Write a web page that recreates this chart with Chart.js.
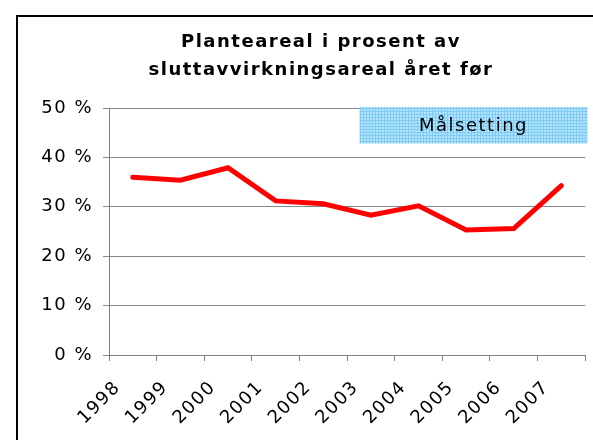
<!DOCTYPE html>
<html>
<head>
<meta charset="utf-8">
<script src="https://cdn.jsdelivr.net/npm/chart.js@4/dist/chart.umd.min.js"></script>
<style>
    html, body { margin: 0; padding: 0; background: #fff; }
    #wrap { position: relative; width: 593px; height: 440px; overflow: hidden; }
    #frame { position: absolute; left: 16px; top: 15px; width: 700px; height: 500px;
             border-left: 2px solid #000; border-top: 2px solid #000; pointer-events: none; }
    canvas { position: absolute; left: 0; top: 0; }
</style>
</head>
<body>
<div id="wrap">
    <canvas id="plantChart" width="593" height="440"></canvas>
    <div id="frame"></div>
</div>
<script>
// data
var years = ["1998", "1999", "2000", "2001", "2002", "2003", "2004", "2005", "2006", "2007"];
var plantShare = [36.0, 35.4, 37.9, 31.2, 30.6, 28.3, 30.2, 25.3, 25.6, 34.3];
var yTicks = [0, 10, 20, 30, 40, 50];
var targetBand = [42.8, 50];
var targetText = "Målsetting";
var titleLines = ["Planteareal i prosent av", "sluttavvirkningsareal året før"];

window.addEventListener('load', function () {

    function makePattern() {
        var c = document.createElement('canvas');
        c.width = 3;
        c.height = 3;
        var g = c.getContext('2d');
        g.fillStyle = '#b5e4fd';
        g.fillRect(0, 0, 3, 3);
        g.fillStyle = '#80cbf5';
        g.fillRect(0, 0, 3, 1);
        g.fillRect(0, 0, 1, 3);
        return g.createPattern(c, 'repeat');
    }

    // wider letters, like the old excel picture
    var spacing = {
        id: 'spacing',
        beforeLayout: function (chart) { chart.ctx.letterSpacing = '1.5px'; },
        beforeDraw: function (chart) { chart.ctx.letterSpacing = '1.5px'; }
    };

    // title is centred on the whole frame (wider than the window), so draw it here
    var frameTitle = {
        id: 'frameTitle',
        afterDraw: function (chart) {
            var ctx = chart.ctx;
            ctx.save();
            ctx.fillStyle = '#000';
            ctx.font = 'bold 18px "DejaVu Sans"';
            ctx.textAlign = 'center';
            ctx.textBaseline = 'middle';
            for (var i = 0; i < titleLines.length; i++) {
                ctx.fillText(titleLines[i], 321, 42 + i * 28);
            }
            ctx.restore();
        }
    };

    var targetBox = {
        id: 'targetBox',
        beforeDatasetsDraw: function (chart) {
            var ctx = chart.ctx;
            var x = chart.scales.x, y = chart.scales.y;
            var left = x.getPixelForValue(4.76);
            var right = x.getPixelForValue(9.55);
            var top = y.getPixelForValue(targetBand[1]) - 1;
            var bottom = y.getPixelForValue(targetBand[0]);
            ctx.save();
            ctx.fillStyle = makePattern();
            ctx.fillRect(left, top, right - left, bottom - top);
            ctx.fillStyle = '#000';
            ctx.font = '18px "DejaVu Sans"';
            ctx.textAlign = 'center';
            ctx.textBaseline = 'middle';
            ctx.fillText(targetText, (left + right) / 2, (top + bottom) / 2 + 1);
            ctx.restore();
        }
    };

    new Chart("plantChart", {
        type: "line",
        data: {
            labels: years,
            datasets: [{
                data: plantShare,
                borderColor: "#ff0000",
                borderWidth: 5,
                pointRadius: 0,
                tension: 0,
                borderCapStyle: 'round',
                borderJoinStyle: 'miter'
            }]
        },
        options: {
            responsive: false,
            animation: false,
            layout: { padding: { left: 0, right: 7, top: 108, bottom: 0 } },
            plugins: {
                legend: { display: false },
                tooltip: { enabled: false },
                title: { display: false }
            },
            scales: {
                x: {
                    offset: true,
                    grid: { drawOnChartArea: false, offset: true, color: '#808080', tickLength: 6 },
                    border: { color: '#808080' },
                    ticks: {
                        color: '#000',
                        font: { family: 'DejaVu Sans', size: 18 },
                        minRotation: 45,
                        maxRotation: 45,
                        autoSkip: false,
                        padding: 16,
                        labelOffset: -15
                    },
                    afterFit: function (scale) { scale.height = 85; }
                },
                y: {
                    min: 0,
                    max: 50,
                    afterBuildTicks: function (scale) {
                        scale.ticks = yTicks.map(function (v) { return { value: v }; });
                    },
                    grid: { color: '#888', tickLength: 6 },
                    border: { color: '#808080' },
                    ticks: {
                        color: '#000',
                        font: { family: 'DejaVu Sans', size: 18 },
                        padding: 10,
                        callback: function (v) { return v + ' %'; }
                    },
                    afterFit: function (scale) { scale.width = 109; }
                }
            }
        },
        plugins: [spacing, targetBox, frameTitle]
    });
});
</script>
</body>
</html>
